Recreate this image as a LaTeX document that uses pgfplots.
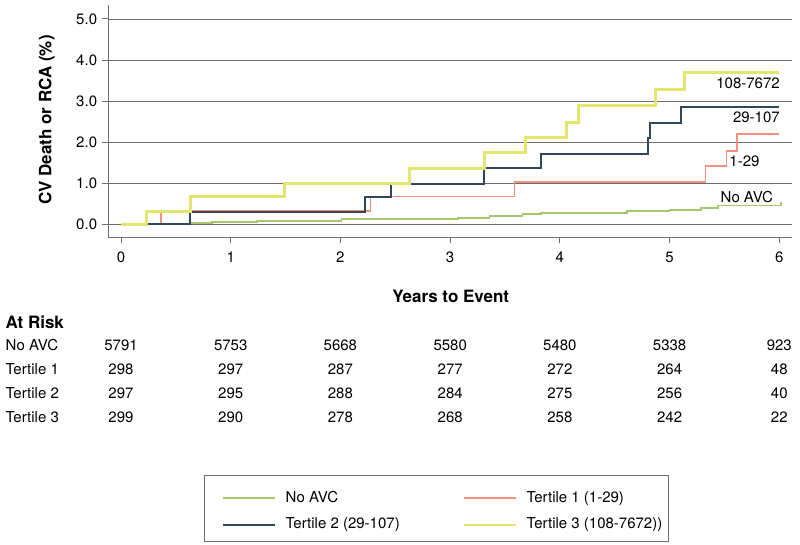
\documentclass[border=0pt]{standalone}
\usepackage{pgfplots}
\pgfplotsset{compat=1.18}
\usepackage{fontspec}
\setmainfont{TeX Gyre Heros}
\definecolor{cgreen}{RGB}{166,198,112}
\definecolor{csalmon}{RGB}{240,146,126}
\definecolor{cnavy}{RGB}{50,70,92}
\definecolor{cyellow}{RGB}{226,230,110}
\definecolor{caxis}{RGB}{110,110,110}
\newcommand{\fnt}{\fontsize{15}{18}\selectfont}
\newcommand{\bfnt}{\bfseries\fontsize{17}{20}\selectfont}
\begin{document}
\begin{tikzpicture}[x=1pt,y=1pt]
\useasboundingbox (0,0) rectangle (800,544);
\draw[caxis, line width=0.8pt] (204,3) rectangle (668,68.3);
\begin{axis}[
  at={(108.3pt,306.7pt)}, anchor=south west,
  scale only axis, width=683.7pt, height=232.3pt,
  xmin=-0.1158, xmax=6.117, ymin=-0.324, ymax=5.34,
  axis x line*=bottom, axis y line*=left,
  axis line style={caxis, line width=1.2pt},
  tick style={caxis, line width=0.9pt},
  major tick length=6pt, tick align=outside,
  xtick={0,1,2,3,4,5,6}, xticklabels={0,1,2,3,4,5,6},
  ytick={0,1,2,3,4,5}, yticklabels={0.0,1.0,2.0,3.0,4.0,5.0},
  ymajorgrids, grid style={caxis, line width=0.7pt},
  ticklabel style={font=\fnt, inner sep=0pt, text height=10.8pt, text depth=0pt},
  xticklabel style={anchor=north, yshift=-8pt},
  yticklabel style={anchor=east, xshift=-5pt},
  clip=false,
  legend columns=2,
  legend cell align=left,
  legend image code/.code={\draw[#1,line width=1.8pt] (0pt,0pt) -- (52pt,0pt);},
  legend style={at={(axis description cs:0.16586,-1.0922)}, anchor=north west,
    draw=none, fill=none, font=\fnt,
    inner sep=0pt, row sep=12.4pt,
    nodes={inner sep=0pt, text height=10.9pt, text depth=3.2pt},
    /tikz/every odd column/.append style={column sep=10pt},
    /tikz/every even column/.append style={column sep=63pt}},
]
\addplot[const plot, cgreen, line width=1.8pt] coordinates {
(0,0) (0.63,0.02) (0.83,0.045) (1.24,0.075) (2.01,0.12) (3.07,0.15) (3.36,0.19) (3.66,0.235) (3.83,0.27) (4.61,0.31) (5.0,0.35) (5.29,0.40) (5.44,0.45) (6.0,0.45) (6.015,0.54)};
\addlegendentry{No AVC}
\addplot[const plot, csalmon, line width=1.8pt] coordinates {
(0,0) (0.364,0.31) (2.274,0.67) (3.588,1.02) (5.328,1.41) (5.52,1.78) (5.617,2.195) (6.0,2.195)};
\addlegendentry{Tertile 1 (1-29)}
\addplot[const plot, cnavy, line width=2pt] coordinates {
(0,0) (0.625,0.30) (2.222,0.67) (2.457,0.98) (3.306,1.37) (3.825,1.71) (4.80,2.09) (4.82,2.46) (5.109,2.85) (6.0,2.85)};
\addlegendentry{Tertile 2 (29-107)}
\addplot[const plot, cyellow, line width=3pt] coordinates {
(0,0) (0.234,0.317) (0.638,0.67) (1.494,0.99) (2.63,1.36) (3.315,1.74) (3.689,2.11) (4.065,2.47) (4.174,2.89) (4.873,3.27) (5.137,3.69) (6.0,3.69)};
\addlegendentry{Tertile 3 (108-7672))}
\node[anchor=east, inner sep=0pt, text height=10.8pt, text depth=0pt, font=\fnt] at (axis cs:6.007,3.446) {108-7672};
\node[anchor=east, inner sep=0pt, text height=10.8pt, text depth=0pt, font=\fnt] at (axis cs:6.007,2.617) {29-107};
\node[anchor=west, inner sep=0pt, text height=10.8pt, text depth=0pt, font=\fnt] at (axis cs:5.545,1.544) {1-29};
\node[anchor=east, inner sep=0pt, text height=10.8pt, text depth=0pt, font=\fnt] at (axis cs:5.946,0.666) {No AVC};
\end{axis}
\tikzset{tab/.style={font=\fnt, inner sep=0pt, text height=10.8pt, text depth=0pt}}
\node[rotate=90, font=\bfnt, inner sep=0pt] at (46.7,424) {CV Death or RCA (\%)};
\node[font=\bfnt, inner sep=0pt, text height=12.1pt, text depth=0pt] at (450.8,247.3) {Years to Event};
\node[font=\bfnt, inner sep=0pt, text height=12.1pt, text depth=0pt, anchor=west] at (5.5,222) {At Risk};
\node[tab, anchor=west] at (5.5,199) {No AVC};
\node[tab, anchor=west] at (5.5,175) {Tertile 1};
\node[tab, anchor=west] at (5.5,151) {Tertile 2};
\node[tab, anchor=west] at (5.5,127) {Tertile 3};
\foreach \x/\a/\b/\c/\d in {121/5791/298/297/299, 230.7/5753/297/295/290, 340.4/5668/287/288/278, 450.2/5580/277/284/268, 559.9/5480/272/275/258, 669.6/5338/264/256/242, 779.3/923/48/40/22}{
  \node[tab] at (\x,199) {\a};
  \node[tab] at (\x,175) {\b};
  \node[tab] at (\x,151) {\c};
  \node[tab] at (\x,127) {\d};
}
\end{tikzpicture}
\end{document}
